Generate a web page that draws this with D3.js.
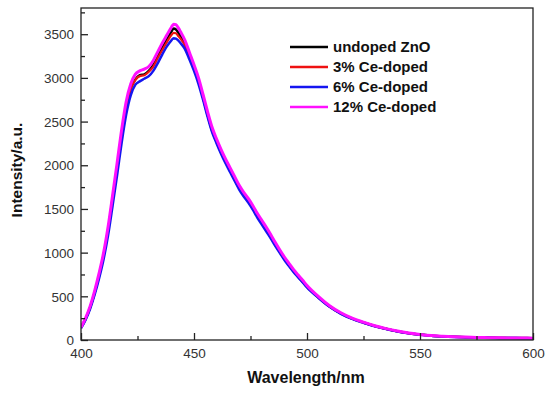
<!DOCTYPE html>
<html>
<head>
<meta charset="utf-8">
<script src="https://cdn.jsdelivr.net/npm/d3@7"></script>
<style>
  html, body { margin: 0; padding: 0; background: #fff; }
  svg { display: block; }
  text { font-family: Arial, "Liberation Sans", Helvetica, sans-serif; }
</style>
</head>
<body>
<svg id="chart" width="550" height="396"></svg>
<script>
const wavelengths = [400,402,404,406,408,410,412,414,416,418,420,422,424,426,428,430,432,434,436,438,440,441,442,443,444,446,448,450,452,454,456,458,460,462,464,466,468,470,472,474,476,478,480,482,484,486,488,490,492,494,496,498,500,505,510,515,520,525,530,535,540,545,550,555,560,565,570,575,580,585,590,595,600];

const undoped = [140,240,370,540,740,970,1260,1620,1980,2360,2680,2880,2980,3030,3040,3080,3150,3250,3350,3440,3530,3565,3555,3520,3480,3390,3250,3120,2970,2780,2580,2400,2270,2150,2040,1940,1840,1740,1660,1590,1510,1420,1340,1260,1180,1090,1010,930,860,790,730,670,610,490,385,305,245,200,160,128,100,78,62,50,42,36,32,29,26,24,23,22,21];

const ce3 = [140,240,370,540,740,970,1255,1610,1970,2350,2670,2870,2975,3020,3030,3070,3130,3230,3320,3410,3490,3515,3510,3480,3450,3370,3240,3110,2960,2770,2575,2395,2265,2145,2035,1935,1835,1738,1658,1588,1508,1418,1338,1258,1178,1088,1008,928,858,788,728,668,608,488,383,303,243,199,159,127,99,78,62,50,42,36,32,29,26,24,23,22,21];

const ce6 = [135,230,355,515,705,925,1200,1540,1890,2260,2580,2800,2920,2960,2990,3020,3080,3170,3270,3360,3430,3455,3450,3430,3400,3330,3210,3080,2930,2750,2555,2380,2250,2130,2020,1920,1820,1722,1642,1572,1492,1402,1322,1242,1162,1075,995,915,848,780,720,662,603,484,380,300,241,197,157,126,98,77,61,49,41,35,31,28,25,23,22,21,20];

const ce12 = [145,250,385,560,765,1000,1300,1660,2030,2410,2730,2930,3040,3080,3100,3130,3200,3300,3400,3490,3580,3615,3610,3575,3530,3430,3290,3150,3000,2810,2615,2435,2300,2180,2070,1970,1870,1770,1690,1620,1540,1450,1370,1290,1205,1115,1030,950,878,808,746,686,625,500,393,312,250,204,163,130,102,80,64,51,43,37,33,30,27,25,23,22,21];

const seriesNames = ["undoped ZnO", "3% Ce-doped", "6% Ce-doped", "12% Ce-doped"];
const seriesValues = [undoped, ce3, ce6, ce12];
const seriesColors = ["#000000", "#ee1111", "#1515f0", "#ff10ff"];
const seriesWidths = [2.5, 2.2, 2.5, 3];

const xTicks = [400, 450, 500, 550, 600];
const xMinorTicks = [425, 475, 525, 575];
const yTicks = [0, 500, 1000, 1500, 2000, 2500, 3000, 3500];
const yMinorTicks = [250, 750, 1250, 1750, 2250, 2750, 3250, 3750];

const L = 81, R = 533, T = 8, B = 340;
const svg = d3.select("#chart");

const x = d3.scaleLinear().domain([400, 600]).range([L, R]);
const y = d3.scaleLinear().domain([0, 3800]).range([B, T]);

// Series
const line = d3.line()
  .x(d => x(d[0]))
  .y(d => y(d[1]))
  .curve(d3.curveMonotoneX);

const clip = svg.append("clipPath").attr("id", "clip")
  .append("rect").attr("x", L).attr("y", T).attr("width", R - L).attr("height", B - T);

const gLines = svg.append("g").attr("clip-path", "url(#clip)");
seriesValues.forEach((vals, i) => {
  gLines.append("path")
    .datum(wavelengths.map((w, j) => [w, vals[j]]))
    .attr("fill", "none")
    .attr("stroke", seriesColors[i])
    .attr("stroke-width", seriesWidths[i])
    .attr("stroke-linejoin", "round")
    .attr("d", line);
});

// Axes (ticks point inward)
const axisColor = "#222";
const xAxis = svg.append("g").attr("transform", `translate(0,${B})`)
  .call(d3.axisBottom(x).tickValues(xTicks).tickSize(-7).tickPadding(0).tickFormat(d3.format("d")));
const xMinor = svg.append("g").attr("transform", `translate(0,${B})`)
  .call(d3.axisBottom(x).tickValues(xMinorTicks).tickSize(-4).tickFormat(""));
const yAxis = svg.append("g").attr("transform", `translate(${L},0)`)
  .call(d3.axisLeft(y).tickValues(yTicks).tickSize(-7).tickPadding(0).tickFormat(d3.format("d")));
const yMinor = svg.append("g").attr("transform", `translate(${L},0)`)
  .call(d3.axisLeft(y).tickValues(yMinorTicks).tickSize(-4).tickFormat(""));

[xAxis, xMinor, yAxis, yMinor].forEach(g => {
  g.select(".domain").remove();
  g.selectAll(".tick line").attr("stroke", axisColor).attr("stroke-width", 1.3);
});

xAxis.selectAll(".tick text")
  .attr("y", 18).attr("dy", 0)
  .attr("fill", "#333").attr("font-size", 13.5);
yAxis.selectAll(".tick text")
  .attr("x", -7).attr("dy", "0.35em")
  .attr("fill", "#333").attr("font-size", 13.5);

// Frame
svg.append("rect")
  .attr("x", L).attr("y", T).attr("width", R - L).attr("height", B - T)
  .attr("fill", "none").attr("stroke", axisColor).attr("stroke-width", 1.3);

// Axis titles
svg.append("text")
  .attr("x", 306).attr("y", 383)
  .attr("text-anchor", "middle")
  .attr("font-size", 16).attr("font-weight", "bold").attr("fill", "#111")
  .text("Wavelength/nm");

svg.append("text")
  .attr("transform", "translate(22,170) rotate(-90)")
  .attr("text-anchor", "middle")
  .attr("font-size", 15.5).attr("font-weight", "bold").attr("fill", "#111")
  .text("Intensity/a.u.");

// Legend
const legend = svg.append("g");
seriesNames.forEach((name, i) => {
  const cy = 47 + i * 20;
  legend.append("line")
    .attr("x1", 290).attr("x2", 328).attr("y1", cy).attr("y2", cy)
    .attr("stroke", seriesColors[i]).attr("stroke-width", 2.5);
  legend.append("text")
    .attr("x", 333).attr("y", cy).attr("dy", "0.36em")
    .attr("font-size", 15).attr("font-weight", "bold").attr("fill", "#111")
    .text(name);
});
</script>
</body>
</html>
